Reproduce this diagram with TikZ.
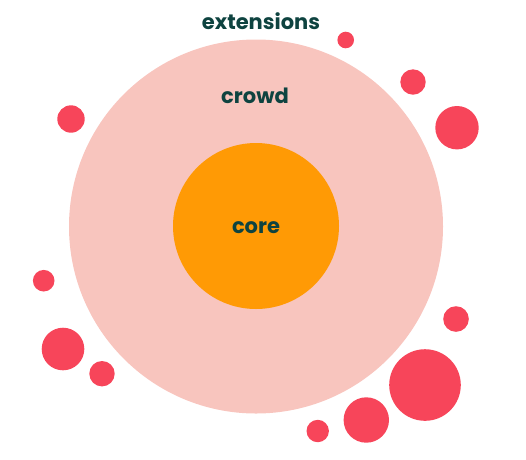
\documentclass[tikz,border=0pt]{standalone}
\usepackage{fontspec}
\setmainfont{Poppins}[BoldFont={* Bold}]
\definecolor{pinkc}{HTML}{F8C5BE}
\definecolor{orangec}{HTML}{FF9A05}
\definecolor{redc}{HTML}{F7455A}
\definecolor{textc}{HTML}{0E4340}
\begin{document}
\begin{tikzpicture}[x=1pt,y=-1pt,
  blob/.style={circle,fill=redc,draw=none,inner sep=0pt,minimum size=#1},
  lbl/.style={text=textc,font=\bfseries\fontsize{21}{24}\selectfont,inner sep=0pt}]
\useasboundingbox (0,0) rectangle (526,459);
\node[circle,fill=pinkc,minimum size=374pt,inner sep=0pt] (crowdc) at (256,226.5) {};
\node[circle,fill=orangec,minimum size=166pt,inner sep=0pt] (corec) at (256,226) {};
\node[lbl] (core) at (256,228) {core};
\node[lbl] (crowd) at (255,96) {crowd};
\node[lbl] (ext) at (261,21) {extensions};
\node[blob=16.6pt] (b1) at (345.7,40) {};
\node[blob=25.4pt] (b2) at (413,82) {};
\node[blob=43.4pt] (b3) at (457,127.7) {};
\node[blob=27.4pt] (b4) at (71,119) {};
\node[blob=21.6pt] (b5) at (43.7,280.7) {};
\node[blob=42.6pt] (b6) at (63,349) {};
\node[blob=25.4pt] (b7) at (102,373.7) {};
\node[blob=25.6pt] (b8) at (456,319) {};
\node[blob=71.6pt] (b9) at (425,385) {};
\node[blob=45.4pt] (b10) at (366.3,420) {};
\node[blob=22.4pt] (b11) at (317.7,431) {};
\end{tikzpicture}
\end{document}
